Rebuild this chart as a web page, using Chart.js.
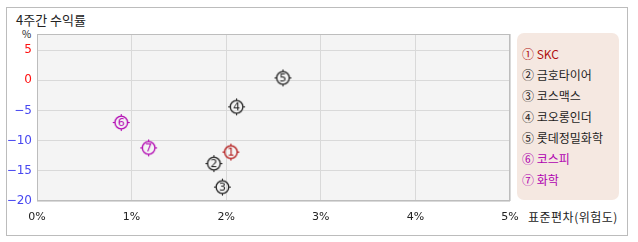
<!DOCTYPE html>
<html>
<head>
<meta charset="utf-8">
<script src="https://cdn.jsdelivr.net/npm/chart.js@4/dist/chart.umd.min.js"></script>
<style>
  html, body { margin: 0; padding: 0; background: #fff; }
  body { width: 638px; height: 242px; position: relative; overflow: hidden;
         font-family: "Noto Sans CJK KR", "DejaVu Sans", sans-serif; color: #222; }
  #frame { position: absolute; left: 6px; top: 7px; width: 620px; height: 227px; border: 1px solid #bcbcbc; }
  #title { position: absolute; left: 16px; top: 11px; font-size: 13px; line-height: 17px; }
  #pct { position: absolute; left: 22px; top: 28px; font-size: 10px; line-height: 12px; }
  #xtitle { position: absolute; left: 528px; top: 209px; font-size: 12px; line-height: 16px; letter-spacing: 0.5px; }
  #legend { position: absolute; left: 517px; top: 33px; width: 102px; height: 167px;
            background: #f5e8e1; border-radius: 7px; }
  #legend div { position: absolute; left: 5px; font-size: 12px; line-height: 16px; white-space: nowrap; }
  #chart { position: absolute; left: 0; top: 0; }
</style>
</head>
<body>
<div id="frame"></div>
<div id="title">4주간 수익률</div>
<div id="pct">%</div>
<div id="xtitle">표준편차(위험도)</div>
<div id="legend"></div>
<canvas id="chart" width="638" height="242"></canvas>
<script>
const names = ['SKC', '금호타이어', '코스맥스', '코오롱인더', '롯데정밀화학', '코스피', '화학'];
const marks = ['①', '②', '③', '④', '⑤', '⑥', '⑦'];
const risk = [2.05, 1.87, 1.96, 2.11, 2.60, 0.89, 1.18];
const returns = [-11.9, -13.8, -17.7, -4.4, 0.4, -7.0, -11.2];
const colors = ['#b01010', '#1e1e1e', '#1e1e1e', '#1e1e1e', '#1e1e1e', '#b000b0', '#b000b0'];
const xTicks = [0, 1, 2, 3, 4, 5];
const yTicks = [-20, -15, -10, -5, 0, 5];

// legend
const legendEl = document.getElementById('legend');
names.forEach((n, i) => {
    const d = document.createElement('div');
    d.style.top = (13 + i * 21) + 'px';
    d.style.color = colors[i];
    d.textContent = marks[i] + ' ' + n;
    legendEl.appendChild(d);
});

// circled number marker
function marker(num, color) {
    const c = document.createElement('canvas');
    c.width = 19;
    c.height = 19;
    const g = c.getContext('2d');
    g.strokeStyle = color;
    g.fillStyle = color;
    g.lineWidth = 1.3;
    g.beginPath();
    g.arc(9.5, 9.5, 6.3, 0, Math.PI * 2);
    g.stroke();
    g.fillRect(9, 1, 1, 2);
    g.fillRect(9, 16, 1, 2);
    g.fillRect(1, 9, 2, 1);
    g.fillRect(16, 9, 2, 1);
    g.font = '11px "DejaVu Sans", sans-serif';
    g.textAlign = 'center';
    g.textBaseline = 'middle';
    g.fillText(String(num), 9.5, 10);
    return c;
}

const plotBg = {
    id: 'plotBg',
    beforeDraw(chart) {
        const { ctx, chartArea: a } = chart;
        ctx.save();
        ctx.fillStyle = '#f4f4f4';
        ctx.fillRect(a.left, a.top, a.width, a.height);
        ctx.restore();
    },
    afterDraw(chart) {
        const { ctx, chartArea: a } = chart;
        ctx.save();
        ctx.strokeStyle = '#bdbdbd';
        ctx.lineWidth = 1;
        ctx.strokeRect(Math.round(a.left) + 0.5, Math.round(a.top) + 0.5,
                       Math.round(a.width) - 1, Math.round(a.height) - 1);
        ctx.restore();
    }
};

new Chart(document.getElementById('chart'), {
    type: 'scatter',
    data: {
        datasets: [{
            data: risk.map((x, i) => ({ x: x, y: returns[i] })),
            pointStyle: names.map((n, i) => marker(i + 1, colors[i])),
            pointRadius: 7,
            pointHoverRadius: 7
        }]
    },
    options: {
        responsive: false,
        animation: false,
        events: [],
        layout: { padding: { top: 34, right: 128, left: 0, bottom: 0 } },
        plugins: { legend: { display: false }, tooltip: { enabled: false } },
        scales: {
            x: {
                type: 'linear',
                min: 0,
                max: 5,
                afterBuildTicks: s => { s.ticks = xTicks.map(v => ({ value: v })); },
                afterFit: s => { s.height = 41; },
                border: { display: false },
                grid: { color: '#d9d9d9', drawTicks: false },
                ticks: {
                    padding: 10,
                    color: '#222',
                    font: { family: 'DejaVu Sans', size: 11 },
                    callback: v => v + '%'
                }
            },
            y: {
                min: -20,
                max: 7.67,
                afterBuildTicks: s => { s.ticks = yTicks.map(v => ({ value: v })); },
                afterFit: s => { s.width = 37; },
                border: { display: false },
                grid: { color: '#d9d9d9', drawTicks: false },
                ticks: {
                    padding: 5,
                    font: { family: 'DejaVu Sans', size: 12 },
                    color: c => c.tick.value >= 0 ? '#ff1010' : '#4848f0',
                    callback: v => String(v).replace('-', '−')
                }
            }
        }
    },
    plugins: [plotBg]
});
</script>
</body>
</html>
